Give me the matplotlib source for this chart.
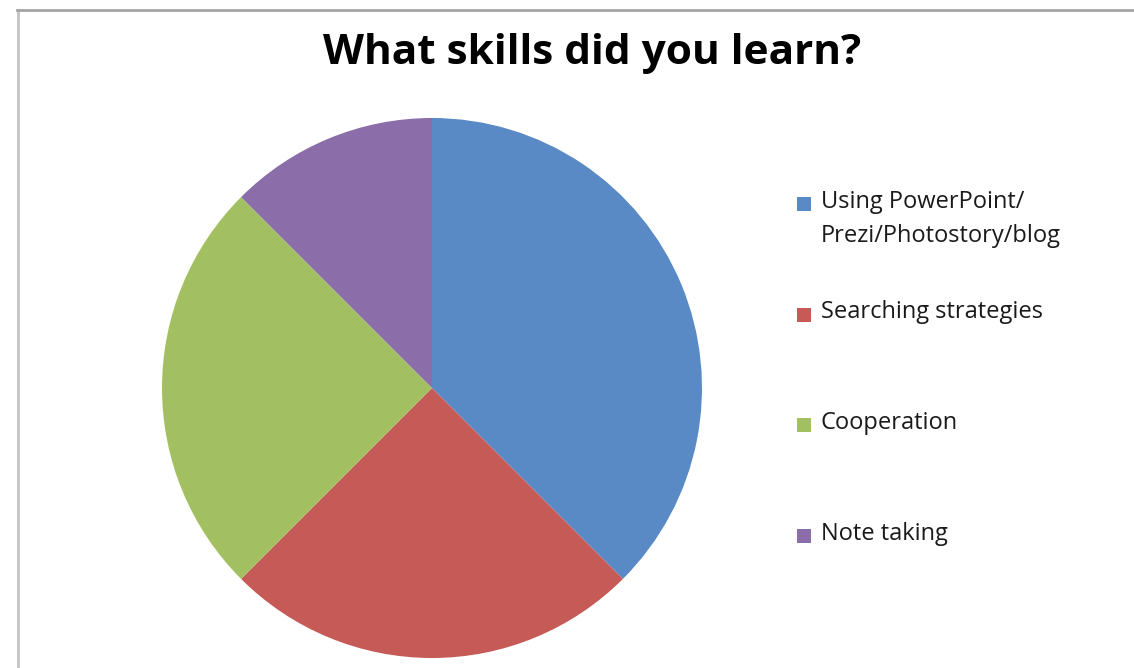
import matplotlib
matplotlib.use('Agg')
import matplotlib.pyplot as plt
from matplotlib.lines import Line2D
from matplotlib.patches import Rectangle

# Survey answers
skills = ['Using PowerPoint/\nPrezi/Photostory/blog', 'Searching strategies',
          'Cooperation', 'Note taking']
counts = [3, 2, 2, 1]
colors = ['#598AC5', '#C55A56', '#A2C061', '#8A6DA9']

W, H = 1134, 668
fig = plt.figure(figsize=(W / 100, H / 100), dpi=100)
fig.patch.set_facecolor('white')

# Chart frame (left and top edges)
fig.add_artist(Line2D([17.5 / W, 17.5 / W], [0, 1 - 10 / H], color='#c4c4c4', lw=2))
fig.add_artist(Line2D([17 / W, 1], [1 - 10 / H, 1 - 10 / H], color='#a6a6a6', lw=2))

# Pie, starting at 12 o'clock and running clockwise
cx, cy, r = 432, 388, 270
ax = fig.add_axes([(cx - r) / W, 1 - (cy + r) / H, 2 * r / W, 2 * r / H])
ax.pie(counts, colors=colors, startangle=90, counterclock=False,
       wedgeprops=dict(linewidth=0))
ax.set_xlim(-1, 1)
ax.set_ylim(-1, 1)
ax.axis('off')

fig.text(592 / W, 1 - 54 / H, 'What skills did you learn?', ha='center', va='center',
         fontsize=30.5, fontweight='bold', family=['Open Sans', 'DejaVu Sans'])

# Legend rows on the right
row0, step = 204, 110.7
for i, (name, c) in enumerate(zip(skills, colors)):
    y = row0 + i * step
    fig.add_artist(Rectangle((797 / W, 1 - (y + 7) / H), 14 / W, 14 / H,
                             transform=fig.transFigure, color=c, lw=0))
    fig.text(821 / W, 1 - (y - 14.5) / H, name, ha='left', va='top', fontsize=17,
             linespacing=1.6, color='#1a1a1a',
             family=['Open Sans', 'DejaVu Sans'])

fig.savefig('out.png', dpi=100)
